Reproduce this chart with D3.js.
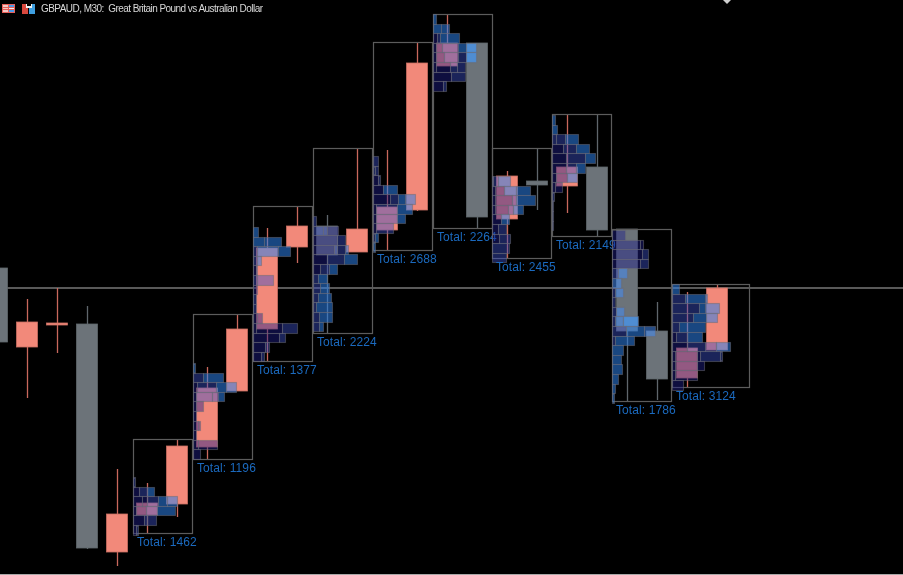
<!DOCTYPE html>
<html>
<head>
<meta charset="utf-8">
<script src="https://cdn.jsdelivr.net/npm/d3@7"></script>
<style>
  html, body { margin: 0; padding: 0; background: #000; overflow: hidden; }
  svg { display: block; filter: blur(0.35px); }
  .total { font-family: "Liberation Sans", Arial, sans-serif; font-size: 12px; letter-spacing: 0.1px; fill: #1b6abf; }
  .title { font-family: "Liberation Sans", Arial, sans-serif; font-size: 10px; fill: #d8d8d8; white-space: pre; }
</style>
</head>
<body>
<svg id="chart"></svg>
<script>
var width = 903, height = 575;

var title = 'GBPAUD, M30:  Great Britain Pound vs Australian Dollar';
var lastPrice = 1.9000;

// bars
var opens  = [1.9020,1.8941,1.8963,1.8964,1.8736,1.8773,1.8784,1.8841,1.8897,1.8959,1.9041,1.9062,1.9036,1.9058,1.9078,1.9222,1.9245,1.9069,1.9107,1.9102,1.9121,1.9059,1.8957,1.8910,1.8938];
var highs  = [1.9020,1.8989,1.9000,1.8982,1.8819,1.8805,1.8849,1.8921,1.8974,1.9060,1.9082,1.9073,1.9140,1.9138,1.9246,1.9274,1.9245,1.9117,1.9140,1.9174,1.9173,1.9059,1.8986,1.8996,1.9004];
var lows   = [1.8946,1.8890,1.8935,1.8739,1.8722,1.8755,1.8771,1.8829,1.8897,1.8927,1.9025,1.8955,1.9036,1.9038,1.9077,1.9222,1.9060,1.9030,1.9078,1.9075,1.9052,1.8887,1.8888,1.8901,1.8938];
var closes = [1.8946,1.8966,1.8965,1.8740,1.8774,1.8785,1.8842,1.8900,1.8959,1.9040,1.9062,1.9033,1.9059,1.9081,1.9225,1.9245,1.9071,1.9112,1.9103,1.9121,1.9058,1.8957,1.8909,1.8940,1.9000];

// volume profile blocks, each one covers two bars
var blockFirst = [5,7,9,11,13,15,17,19,21,23];
var blockLast  = [6,8,10,12,14,16,18,20,22,24];
var blockFrom  = [4.53,6.53,8.53,10.53,12.53,14.53,16.5,18.5,20.5,22.5];
var blockTo    = [6.5,8.5,10.5,12.5,14.5,16.5,18.47,20.47,22.47,25.07];
var blockTotals = [1462,1196,1377,2224,2688,2264,2455,2149,1786,3124];
var profileTop = [1.8811,1.8925,1.9061,1.9072,1.9132,1.9274,1.9112,1.9173,1.9058,1.9004];
var rowStep = 0.00096;

// rows of [volume, shade]
var profile1 = [
  [[2,1]],
  [[6,0],[8,1],[7,2]],
  [[9,0],[5,0],[11,1],[9,2],[10,2]],
  [[3,0],[10,0],[11,1],[18,2]],
  [[11,0],[3,1],[9,1]],
  [[3,0],[2,1]]
];
var profile2 = [
  [[2,2]],
  [[10,1],[20,2]],
  [[4,0],[19,1],[10,2],[10,2]],
  [[3,0],[16,1],[6,1],[6,2]],
  [[3,0],[7,0]],
  [[3,0]],
  [[5,0],[2,0]],
  [[3,0]],
  [[5,0],[19,0]],
  [[7,0]]
];
var profile3 = [
  [[5,2]],
  [[11,2],[17,2]],
  [[4,1],[21,2],[12,2]],
  [[4,1],[4,2]],
  [[3,0],[1,1]],
  [[4,1],[16,1]],
  [[4,0]],
  [[3,1]],
  [[3,1]],
  [[4,0],[5,0]],
  [[3,0],[26,0],[15,1]],
  [[26,0],[6,1]],
  [[12,0],[4,1]],
  [[8,0],[3,1]]
];
var profile4 = [
  [[3,1]],
  [[10,1],[4,1],[11,0]],
  [[24,0],[8,1]],
  [[21,0],[3,1],[8,1],[3,2]],
  [[14,0],[17,1],[13,2]],
  [[7,0],[9,1],[8,2]],
  [[5,1],[9,2]],
  [[7,1],[9,2]],
  [[5,1],[13,2]],
  [[3,1],[16,2]],
  [[6,1],[13,2]],
  [[6,1],[4,2]]
];
var profile5 = [
  [[5,1]],
  [[2,1],[3,1]],
  [[5,0],[2,1]],
  [[10,0],[14,2]],
  [[17,0],[8,1],[7,2],[10,2]],
  [[3,0],[21,1],[15,2]],
  [[3,0],[21,1],[8,2]],
  [[3,0],[17,1]],
  [[2,1],[3,2]],
  [[2,2]]
];
var profile6 = [
  [[3,2]],
  [[8,2],[8,2]],
  [[4,0],[3,1],[19,2]],
  [[3,0],[6,0],[16,1],[8,2],[10,4]],
  [[3,0],[8,0],[14,1],[8,1],[10,4]],
  [[3,0],[14,0],[7,1],[8,1]],
  [[18,0],[14,1]],
  [[10,0],[3,1]]
];
var profile7 = [
  [[1,1],[5,1],[12,2]],
  [[3,0],[9,0],[12,2],[14,2]],
  [[3,0],[17,0],[4,1],[19,2]],
  [[3,0],[13,0],[5,1],[10,2]],
  [[9,0],[8,2]],
  [[6,0],[8,1]],
  [[7,0],[11,1]],
  [[17,1]],
  [[14,1]]
];
var profile8 = [
  [[3,2]],
  [[5,2]],
  [[4,1],[9,1],[13,2]],
  [[11,0],[13,1],[13,2]],
  [[14,0],[19,1],[10,2]],
  [[14,0],[10,1],[9,2]],
  [[4,0],[11,0],[10,2]],
  [[3,0],[7,0]],
  [[2,1]],
  [[1,1]],
  [[1,1]],
  [[1,1]]
];
var profile9 = [
  [[13,0]],
  [[28,0],[3,0]],
  [[30,0],[6,1]],
  [[28,0],[8,1]],
  [[6,1],[9,3]],
  [[9,3]],
  [[3,1],[8,3]],
  [[3,1]],
  [[4,1],[8,3]],
  [[3,1],[8,3],[15,4]],
  [[14,1],[18,2],[11,3]],
  [[3,1],[19,2]],
  [[11,2]],
  [[9,2]],
  [[10,2]],
  [[6,2]],
  [[3,2]],
  [[2,2]]
];
var profile10 = [
  [[7,2]],
  [[13,1],[20,2],[2,2]],
  [[27,1],[6,2],[14,2]],
  [[21,1],[13,2],[11,2]],
  [[7,1],[26,2]],
  [[4,0],[11,1],[15,2]],
  [[15,0],[18,1],[11,1],[14,2]],
  [[3,0],[22,0],[3,0],[20,1],[2,1]],
  [[3,0],[22,0],[7,0]],
  [[3,0],[22,0]],
  [[11,0]]
];
var profiles = [profile1,profile2,profile3,profile4,profile5,profile6,profile7,profile8,profile9,profile10];

var bars = opens.map((o, i) => ({ i: i, open: o, high: highs[i], low: lows[i], close: closes[i] }));

var shades = ['rgba(30,30,140,.45)', 'rgba(60,80,200,.45)', 'rgba(45,130,235,.55)',
              'rgba(70,140,245,.55)', 'rgba(70,150,240,.75)'];

var svg = d3.select('#chart').attr('width', width).attr('height', height);

var x = d3.scaleLinear().domain([0, 25]).range([-3, 747]);
var y = d3.scaleLinear().domain([1.9288, 1.8713]).range([0, 575]);
var volX = d3.scaleLinear().domain([0, 100]).range([0, 100]);
var bodyWidth = 21;

// bottom edge of the terminal window
svg.append('line')
    .attr('x1', 0).attr('x2', width)
    .attr('y1', height - 0.5).attr('y2', height - 0.5)
    .attr('stroke', '#a8a8a8');

svg.append('line')
    .attr('x1', 0).attr('x2', width)
    .attr('y1', y(lastPrice)).attr('y2', y(lastPrice))
    .attr('stroke', '#777')
    .attr('stroke-width', 1.6);

function isUp(d) { return d.close >= d.open; }

var candle = svg.append('g').selectAll('g')
    .data(bars)
    .enter()
    .append('g');

candle.append('line')
    .attr('x1', d => x(d.i) + 0.5)
    .attr('x2', d => x(d.i) + 0.5)
    .attr('y1', d => y(d.high))
    .attr('y2', d => y(d.low))
    .attr('stroke', d => isUp(d) ? '#c9685c' : '#5f666c')
    .attr('stroke-width', 1.3);

candle.append('rect')
    .attr('x', d => x(d.i) - bodyWidth / 2)
    .attr('width', bodyWidth)
    .attr('y', d => y(Math.max(d.open, d.close)))
    .attr('height', d => Math.max(1.5, Math.abs(y(d.open) - y(d.close))))
    .attr('fill', d => isUp(d) ? '#f2897a' : '#6c7379')
    .attr('stroke', d => isUp(d) ? '#c96f62' : '#5f666c')
    .attr('stroke-width', 0.8);

// one group per block, later blocks sit on top of earlier labels
blockTotals.forEach((total, b) => {
    var g = svg.append('g').attr('class', 'block');
    var inBlock = bars.filter(d => d.i >= blockFirst[b] && d.i <= blockLast[b]);
    var top = y(d3.max(inBlock, d => d.high));
    var bottom = y(d3.min(inBlock, d => d.low));
    var left = Math.round(x(blockFrom[b]));
    var right = Math.round(x(blockTo[b]));

    g.append('rect')
        .attr('x', left + 0.5)
        .attr('y', Math.round(top) + 0.5)
        .attr('width', right - left)
        .attr('height', Math.round(bottom - top))
        .attr('fill', 'none')
        .attr('stroke', '#5c5c5c')
        .attr('stroke-width', 1.2);

    var rows = g.selectAll('g.row')
        .data(profiles[b])
        .enter()
        .append('g')
        .attr('class', 'row');

    rows.each(function(cells, r) {
        var rowTop = y(profileTop[b] - r * rowStep);
        var rowBottom = y(profileTop[b] - (r + 1) * rowStep);
        var offset = 0;
        var placed = cells.map(c => {
            var cell = { start: offset, vol: c[0], shade: c[1] };
            offset += c[0];
            return cell;
        });
        d3.select(this).selectAll('rect')
            .data(placed)
            .enter()
            .append('rect')
            .attr('x', d => left + volX(d.start) + 0.5)
            .attr('y', Math.round(rowTop) + 0.5)
            .attr('width', d => volX(d.vol))
            .attr('height', Math.round(rowBottom) - Math.round(rowTop))
            .attr('fill', d => shades[d.shade])
            .attr('stroke', 'rgba(105,105,115,.5)')
            .attr('stroke-width', 1.1);
    });

    g.append('text')
        .attr('class', 'total')
        .attr('x', left + 4)
        .attr('y', bottom + 13)
        .text('Total: ' + total);
});

// title bar icons
var iconCells = [[2,4,13,9,'#e8605a'],[3,5,5,2,'#f4c8c4'],[3,8,5,1,'#f4c8c4'],[3,10,5,2,'#f4c8c4'],
                 [9,5,5,2,'#4a9ae8'],[9,8,5,1,'#f0f0f0'],[9,10,5,2,'#4a9ae8'],
                 [22,4,6,10,'#d8483e'],[29,4,6,10,'#3f9fe0'],[26,4,6,4,'#f0f0f0'],[27,4,4,2,'#000']];
svg.append('g').selectAll('rect')
    .data(iconCells)
    .enter()
    .append('rect')
    .attr('x', d => d[0]).attr('y', d => d[1])
    .attr('width', d => d[2]).attr('height', d => d[3])
    .attr('fill', d => d[4]);

svg.append('text')
    .attr('class', 'title')
    .attr('x', 41)
    .attr('y', 12)
    .attr('textLength', 222)
    .text(title);

// small marker cut off by the top edge
svg.append('path')
    .attr('d', d3.line()([[723, 0], [731, 0], [727, 4]]))
    .attr('fill', '#cfcfcf');
</script>
</body>
</html>
